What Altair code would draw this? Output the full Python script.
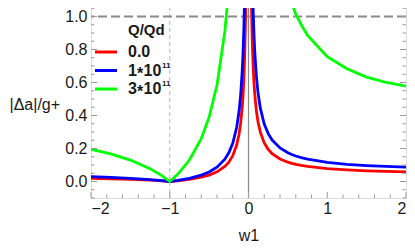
import altair as alt
import pandas as pd

# ---- data ----
w1 = [-2, -1.75, -1.5, -1.25, -1.1, -1, -0.9, -0.75, -0.6, -0.5, -0.4, -0.3, -0.25, -0.2,
      -0.15, -0.12, -0.1, -0.08, -0.07, -0.06, -0.05, -0.04, -0.035, -0.03,
      0.03, 0.035, 0.04, 0.05, 0.06, 0.07, 0.08, 0.1, 0.12, 0.15, 0.2, 0.25, 0.3, 0.4,
      0.5, 0.55, 0.6, 0.67, 0.75, 1, 1.25, 1.5, 1.75, 2]
red = [0.0195, 0.0167, 0.013, 0.0078, 0.0035, 0.0, 0.0043, 0.013, 0.026, 0.039, 0.0585, 0.091,
       0.117, 0.156, 0.221, 0.286, 0.351, 0.4485, 0.518, 0.611, 0.741, 0.936, 1.075, 1.261,
       1.339, 1.153, 1.014, 0.819, 0.689, 0.596, 0.5265, 0.429, 0.364, 0.299, 0.234, 0.195,
       0.169, 0.1365, 0.117, 0.110, 0.104, 0.0972, 0.091, 0.078, 0.0702, 0.065, 0.0613, 0.0585]
blue = [0.029, 0.0249, 0.0193, 0.0116, 0.0053, 0.0, 0.0064, 0.0193, 0.0387, 0.058, 0.087, 0.1353,
        0.174, 0.232, 0.3287, 0.4253, 0.522, 0.667, 0.7706, 0.9087, 1.102, 1.392, 1.599, 1.875,
        1.991, 1.715, 1.508, 1.218, 1.0247, 0.8866, 0.783, 0.638, 0.5413, 0.4447, 0.348, 0.29,
        0.2513, 0.203, 0.174, 0.1635, 0.1547, 0.1446, 0.1353, 0.116, 0.1044, 0.0967, 0.0911, 0.087]
green = [0.195, 0.167, 0.13, 0.078, 0.0355, 0.0, 0.0433, 0.13, 0.26, 0.39, 0.585, 0.91,
         1.17, 1.56, 2.21, 2.86, 3.51, 4.485, 5.18, 6.11, 7.41, 9.36, 10.75, 12.61,
         13.39, 11.53, 10.14, 8.19, 6.89, 5.96, 5.265, 4.29, 3.64, 2.99, 2.34, 1.95,
         1.69, 1.365, 1.17, 1.08, 1.015, 0.95, 0.885, 0.757, 0.683, 0.633, 0.6, 0.578]

series_values = [red, blue, green]
series_colors = ["#ff0000", "#0000ff", "#00ff00"]
legend_title = ["Q/Qd"]
legend_heads = ["0.0", "1", "3"]
legend_stars = ["", "*", "*"]
legend_tails = ["", "10", "10"]
legend_sups = ["", "11", "11"]

x_major = [-2, -1, 0, 1, 2]
x_minor = [-1.8, -1.6, -1.4, -1.2, -0.8, -0.6, -0.4, -0.2, 0.2, 0.4, 0.6, 0.8, 1.2, 1.4, 1.6, 1.8]
y_major = [0.0, 0.2, 0.4, 0.6, 0.8, 1.0]
y_minor = [-0.1, -0.05, 0.05, 0.1, 0.15, 0.25, 0.3, 0.35, 0.45, 0.5, 0.55, 0.65, 0.7, 0.75,
           0.85, 0.9, 0.95, 1.05, 1.1]
grid_x = [-1]
grid_y = [1.0]
axis_x = [0]

W, H = 315, 198
FRAME = "#9a9a9a"
TXT = "#1a1a1a"
FONT = "Liberation Sans"

xscale = alt.Scale(domain=[-2, 2], nice=False, zero=False)
yscale = alt.Scale(domain=[-0.1, 1.1], nice=False, zero=False)
xaxis = alt.Axis(values=x_major, format="d", ticks=False, tickSize=0, domain=False, grid=False,
                 labelFontSize=16, labelColor=TXT, labelPadding=2, labelFont=FONT,
                 title="w1", titleFontSize=16, titleFontWeight="normal", titleColor=TXT,
                 titleFont=FONT, titleBaseline="alphabetic", titleY=42)
yaxis = alt.Axis(values=y_major, format=".1f", ticks=False, tickSize=0, domain=False, grid=False,
                 labelFontSize=16, labelColor=TXT, labelPadding=4, labelFont=FONT,
                 title="|\u0394a|/g+", titleFontSize=16, titleFontWeight="normal",
                 titleColor=TXT, titleFont=FONT, titleAngle=0, titleAlign="left",
                 titleBaseline="middle", titleX=-82, titleY=104)


def X():
    return alt.X("x:Q", scale=xscale, axis=xaxis, title="w1")


def Y():
    return alt.Y("y:Q", scale=yscale, axis=yaxis, title="|\u0394a|/g+")


layers = []

# grid lines
layers.append(alt.Chart(pd.DataFrame({"x": grid_x})).mark_rule(
    color="#aab3ef", strokeWidth=1, strokeDash=[4, 3]).encode(x=X()))
layers.append(alt.Chart(pd.DataFrame({"y": grid_y})).mark_rule(
    color="#8a8a8a", strokeWidth=2, strokeDash=[9, 4]).encode(y=Y()))
# vertical axis at x = 0
layers.append(alt.Chart(pd.DataFrame({"x": axis_x})).mark_rule(
    color="#888888", strokeWidth=1.2).encode(x=X()))

# curves
for vals, col in zip(series_values, series_colors):
    df = pd.DataFrame({"x": w1, "y": vals})
    layers.append(alt.Chart(df).mark_line(color=col, strokeWidth=2.8, clip=True).encode(
        x=X(), y=Y()))

# frame ticks (inward)
for vals, ln in ((x_major, 6), (x_minor, 3.5)):
    df = pd.DataFrame({"x": vals})
    layers.append(alt.Chart(df).mark_rule(color=FRAME, strokeWidth=1).encode(
        x=X(), y=alt.value(H), y2=alt.value(H - ln)))
    layers.append(alt.Chart(df).mark_rule(color=FRAME, strokeWidth=1).encode(
        x=X(), y=alt.value(0), y2=alt.value(ln)))
for vals, ln in ((y_major, 6), (y_minor, 3.5)):
    df = pd.DataFrame({"y": vals})
    layers.append(alt.Chart(df).mark_rule(color=FRAME, strokeWidth=1).encode(
        y=Y(), x=alt.value(0), x2=alt.value(ln)))
    layers.append(alt.Chart(df).mark_rule(color=FRAME, strokeWidth=1).encode(
        y=Y(), x=alt.value(W), x2=alt.value(W - ln)))


def txt(s, x, y, size, dy=0):
    return alt.Chart(pd.DataFrame({"t": [s]})).mark_text(
        align="left", baseline="middle", fontWeight="bold", fontSize=size, font=FONT,
        color=TXT, dy=dy).encode(x=alt.value(x), y=alt.value(y), text="t:N")


# legend (manual, inside plot)
layers.append(txt(legend_title[0], 37, 30, 15))
row_y = [52, 70.5, 89]
for i, col in enumerate(series_colors):
    yy = row_y[i]
    layers.append(alt.Chart(pd.DataFrame({"t": [legend_heads[i]]})).mark_rule(
        color=col, strokeWidth=3).encode(x=alt.value(4), x2=alt.value(26), y=alt.value(yy)))
    layers.append(txt(legend_heads[i], 37, yy, 16))
    if legend_stars[i]:
        layers.append(txt(legend_stars[i], 46, yy, 16, dy=3))
        layers.append(txt(legend_tails[i], 52.5, yy, 16))
        layers.append(txt(legend_sups[i], 71, yy - 5, 8))

chart = alt.layer(*layers).properties(
    width=W, height=H,
    autosize=alt.AutoSizeParams(type="none"),
    padding={"left": 83, "top": -8, "right": 1, "bottom": 44},
).configure_view(stroke=FRAME, strokeWidth=1).configure(font=FONT)

chart.save("out.html", embed_options={"renderer": "svg", "actions": False})
